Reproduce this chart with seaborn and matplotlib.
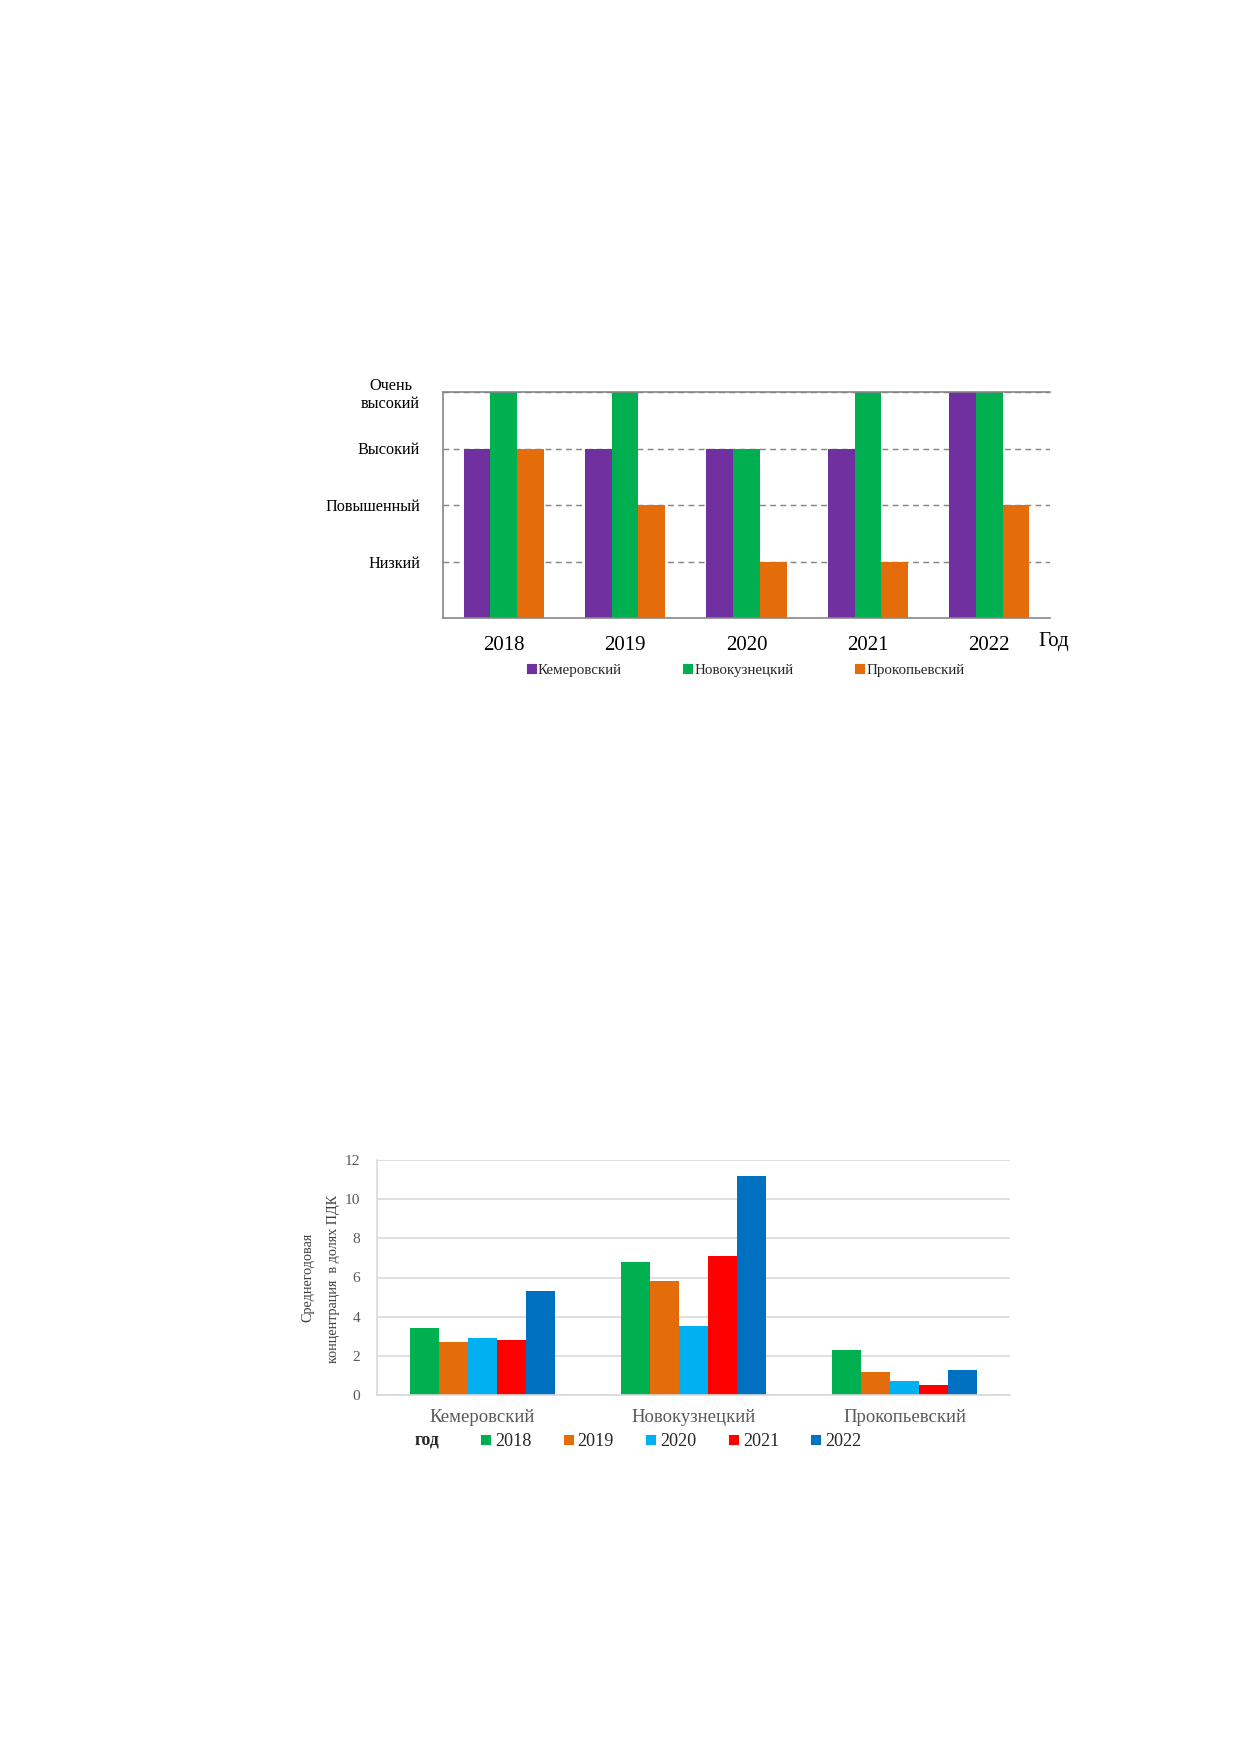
import numpy as np
import pandas as pd
import matplotlib
matplotlib.use("Agg")
import matplotlib.pyplot as plt
import seaborn as sns
from matplotlib.lines import Line2D

# ---------------- data ----------------
years = ["2018", "2019", "2020", "2021", "2022"]
districts = ["Кемеровский", "Новокузнецкий", "Прокопьевский"]

# chart 1: pollution level (1 = Низкий ... 4 = Очень высокий)
level_labels = ["Низкий", "Повышенный", "Высокий", "Очень\nвысокий"]
level_kemerovo = [3, 3, 3, 3, 4]
level_novokuznetsk = [4, 4, 3, 4, 4]
level_prokopyevsk = [3, 2, 1, 1, 2]

# chart 2: average annual concentration, fractions of MPC (per district)
conc_2018 = [3.4, 6.8, 2.3]
conc_2019 = [2.7, 5.8, 1.2]
conc_2020 = [2.9, 3.5, 0.7]
conc_2021 = [2.8, 7.1, 0.5]
conc_2022 = [5.3, 11.2, 1.3]

top_colors = ["#7030A0", "#00B050", "#E46C0A"]
bottom_colors = ["#00B050", "#E46C0A", "#00B0F0", "#FF0000", "#0070C0"]

# ---------------- style ----------------
sns.set_theme(style="white")
plt.rcParams["font.family"] = ["Liberation Serif", "DejaVu Serif"]

W, H, DPI = 1240, 1754, 150
fig = plt.figure(figsize=(W / DPI, H / DPI), dpi=DPI)
fig.patch.set_facecolor("white")


def ax_rect(x0, y0, x1, y1):
    return [x0 / W, 1 - y1 / H, (x1 - x0) / W, (y1 - y0) / H]


# ================= chart 1 =================
ax1 = fig.add_axes(ax_rect(443, 392, 1050, 618))
df1 = pd.DataFrame({
    "year": years * 3,
    "district": np.repeat(districts, len(years)),
    "level": level_kemerovo + level_novokuznetsk + level_prokopyevsk,
})
sns.barplot(data=df1, x="year", y="level", hue="district", order=years,
            hue_order=districts, palette=top_colors, width=0.66, saturation=1,
            errorbar=None, legend=False, linewidth=0, ax=ax1)
ax1.set_xlim(-0.5, len(years) - 0.5)
ax1.set_ylim(0, 4)
ax1.set_xlabel("")
ax1.set_ylabel("")
ax1.set_yticks([1, 2, 3, 4])
ax1.set_yticklabels(level_labels, fontsize=7.8, color="black")
for lab in ax1.get_yticklabels():
    lab.set_multialignment("center")
ax1.tick_params(axis="y", length=0, pad=11)
ax1.set_xticks(range(len(years)))
ax1.set_xticklabels(years, fontsize=10, color="black")
ax1.set_xticks(np.arange(-0.5, len(years), 1.0), minor=True)
ax1.tick_params(axis="x", which="major", length=0, pad=8.8)
ax1.tick_params(axis="x", which="minor", length=3, width=0.8, color="#868686",
                direction="out")
ax1.set_axisbelow(True)
ax1.yaxis.grid(True, linestyle=(0, (4, 3)), color="#868686", linewidth=0.7)
ax1.xaxis.grid(False)
for side in ["left", "bottom", "top"]:
    ax1.spines[side].set_visible(True)
    ax1.spines[side].set_color("#868686")
    ax1.spines[side].set_linewidth(0.8)
ax1.spines["right"].set_visible(False)

fig.text(1038 / W, 1 - 646 / H, "Год", fontsize=10, ha="left", va="baseline",
         color="black")

h1 = [Line2D([], [], marker="s", linestyle="", color=c, markersize=3.4)
      for c in top_colors]
fig.legend(h1, districts, loc="center", bbox_to_anchor=(746 / W, 1 - 670 / H),
           ncol=3, frameon=False, fontsize=7.2, handlelength=0.5,
           handletextpad=0.15, columnspacing=4.2, borderpad=0)

# ================= chart 2 =================
ax2 = fig.add_axes(ax_rect(377, 1160, 1010, 1395))
conc_all = [conc_2018, conc_2019, conc_2020, conc_2021, conc_2022]
df2 = pd.DataFrame({
    "district": districts * len(years),
    "year": np.repeat(years, len(districts)),
    "value": [v for series in conc_all for v in series],
})
sns.barplot(data=df2, x="district", y="value", hue="year", order=districts,
            hue_order=years, palette=bottom_colors, width=0.69, saturation=1,
            errorbar=None, legend=False, linewidth=0, ax=ax2)
ax2.set_xlim(-0.5, len(districts) - 0.5)
ax2.set_ylim(0, 12)
ax2.set_xlabel("")
ax2.set_ylabel("")
ax2.set_yticks(np.arange(0, 13, 2))
ax2.set_yticklabels([str(v) for v in range(0, 13, 2)], fontsize=7.4,
                    color="#595959")
ax2.set_xticks(range(len(districts)))
ax2.set_xticklabels(districts, fontsize=9, color="#595959")
ax2.tick_params(axis="y", length=0, pad=8)
ax2.tick_params(axis="x", length=0, pad=6.6)
ax2.set_axisbelow(True)
ax2.yaxis.grid(True, linestyle="-", color="#D9D9D9", linewidth=0.8)
ax2.xaxis.grid(False)
for side in ["left", "bottom"]:
    ax2.spines[side].set_visible(True)
    ax2.spines[side].set_color("#D9D9D9")
    ax2.spines[side].set_linewidth(0.8)
ax2.spines["top"].set_visible(False)
ax2.spines["right"].set_visible(False)

fig.text(308 / W, 1 - 1277 / H, "Среднегодовая", rotation=90, fontsize=6.8,
         ha="center", va="center", color="#404040")
fig.text(333 / W, 1 - 1279 / H, "концентрация  в долях ПДК", rotation=90,
         fontsize=6.8, ha="center", va="center", color="#404040")

fig.text(427 / W, 1 - 1445 / H, "год", fontsize=8.5, fontweight="bold",
         ha="center", va="baseline", color="#262626")
h2 = [Line2D([], [], marker="s", linestyle="", color=c, markersize=3.9)
      for c in bottom_colors]
fig.legend(h2, years, loc="center", bbox_to_anchor=(671 / W, 1 - 1442 / H),
           ncol=5, frameon=False, fontsize=8.7, handlelength=0.6,
           handletextpad=0.2, columnspacing=1.75, borderpad=0,
           labelcolor="#262626")

fig.savefig("out.png", dpi=DPI, facecolor="white")
